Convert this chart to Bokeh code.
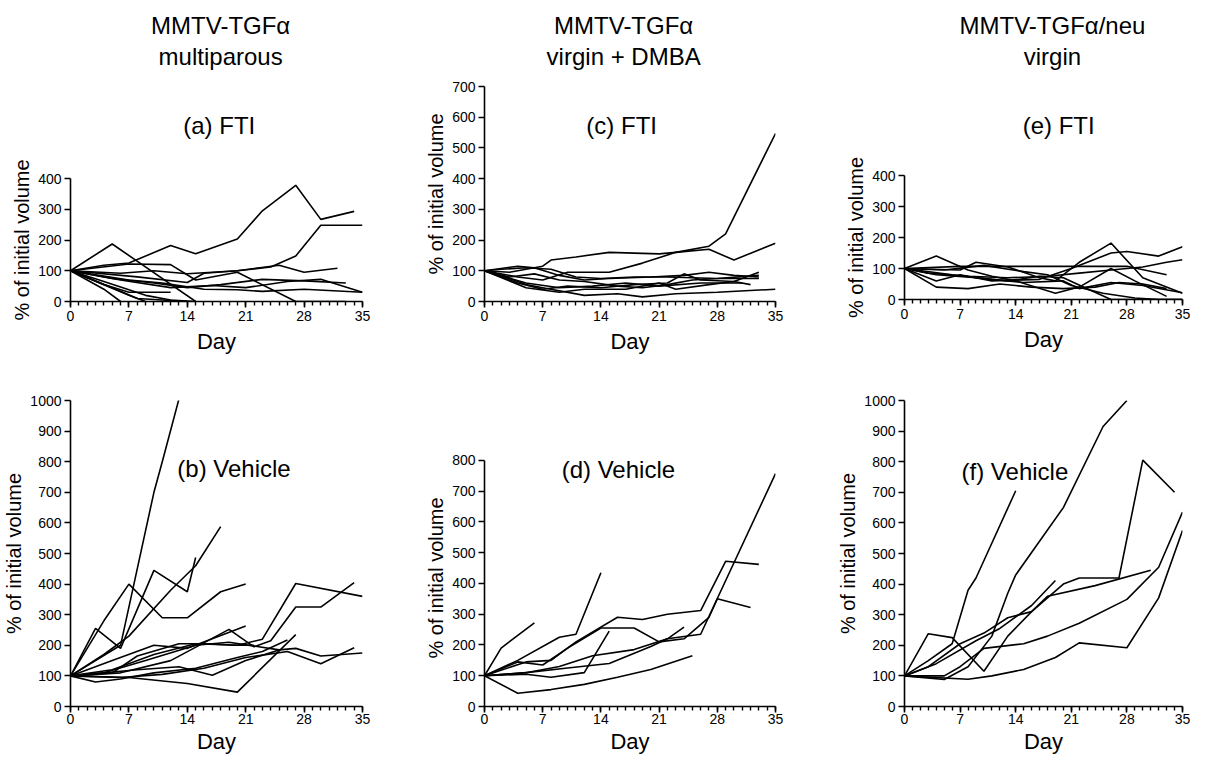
from bokeh.plotting import figure
from bokeh.layouts import row, column
from bokeh.models import Range1d, FixedTicker
from bokeh.core.properties import value
from bokeh.embed import file_html
from bokeh.resources import INLINE

FONT = "Liberation Sans"

# ---------------- data ----------------
day_ticks = [0, 7, 14, 21, 28, 35]
day_minor = list(range(0, 36))

col_title_1 = ["MMTV-TGF\u03b1", "MMTV-TGF\u03b1", "MMTV-TGF\u03b1/neu"]
col_title_2 = ["multiparous", "virgin + DMBA", "virgin"]
panel_labels = ["(a) FTI", "(b) Vehicle", "(c) FTI", "(d) Vehicle", "(e) FTI", "(f) Vehicle"]
x_label = "Day"
y_label = "% of initial volume"

# (a) multiparous, FTI
a_days = [
    [0, 4, 7, 12, 15, 20, 23, 27, 30, 34],
    [0, 5, 15],
    [0, 7, 12, 15, 20, 27, 33],
    [0, 6, 10, 14, 17, 20, 24, 27, 30, 35],
    [0, 8, 14, 16, 20, 25, 28, 32],
    [0, 5, 10, 14, 18, 23, 28, 33],
    [0, 6, 12, 17, 21, 26, 30, 35],
    [0, 7, 11, 16, 20, 23, 28, 35],
    [0, 4, 7, 12],
    [0, 4, 6],
    [0, 7, 9],
    [0, 5, 8, 14],
    [0, 4, 9, 12, 15],
]
a_vals = [
    [100, 118, 125, 182, 155, 203, 295, 378, 267, 293],
    [100, 187, 0],
    [100, 122, 120, 70, 95, 0, 0],
    [100, 92, 100, 90, 95, 100, 112, 148, 248, 248],
    [100, 80, 62, 92, 100, 118, 95, 108],
    [100, 75, 60, 45, 55, 72, 67, 60],
    [100, 70, 45, 52, 45, 65, 72, 30],
    [100, 70, 60, 40, 38, 33, 40, 30],
    [100, 55, 30, 30],
    [100, 40, 0],
    [100, 20, 0],
    [100, 45, 10, 0],
    [100, 65, 20, 5, 0],
]

# (b) multiparous, vehicle
b_days = [
    [0, 6, 8, 10, 11, 13],
    [0, 4, 7, 12, 15, 18],
    [0, 3, 6, 10, 14, 15],
    [0, 4, 7, 11, 14, 18, 21],
    [0, 5, 10, 15, 20, 23, 27, 35],
    [0, 6, 12, 19, 22, 24, 27, 30, 34],
    [0, 5, 10, 14, 21],
    [0, 7, 14, 20, 27],
    [0, 4, 9, 15, 19, 25, 27, 30, 35],
    [0, 6, 11, 16, 21, 26, 30, 34],
    [0, 8, 13, 17, 21, 25],
    [0, 3, 6, 10, 15, 20, 23, 26],
    [0, 5, 8, 13, 16, 20, 22],
]
b_vals = [
    [100, 200, 450, 700, 800, 1005],
    [100, 170, 230, 380, 460, 588],
    [100, 255, 190, 445, 375, 487],
    [100, 280, 400, 290, 290, 375, 400],
    [100, 120, 170, 205, 200, 220, 402, 360],
    [100, 110, 150, 252, 195, 215, 325, 325, 405],
    [100, 150, 200, 190, 263],
    [100, 95, 75, 47, 235],
    [100, 110, 150, 200, 210, 185, 190, 165, 175],
    [100, 95, 105, 125, 160, 180, 140, 192],
    [100, 120, 130, 102, 150, 185],
    [100, 80, 90, 110, 125, 160, 180, 217],
    [100, 110, 165, 205, 205, 200, 200],
]

# (c) virgin + DMBA, FTI
c_days = [
    [0, 4, 7, 10, 15, 19, 23, 27, 29, 35],
    [0, 3, 7, 8, 11, 15, 21, 23, 27, 30, 35],
    [0, 4, 6, 9, 12, 15, 20, 24, 27, 30, 33],
    [0, 3, 5, 7, 12, 16, 19, 23, 28, 35],
    [0, 4, 7, 10, 14, 18, 22, 24, 26, 30, 33],
    [0, 5, 9, 12, 17, 21, 23, 27, 30, 32],
    [0, 3, 6, 9, 12, 16, 19, 22, 25, 28, 33],
    [0, 2, 5, 8, 11, 14, 18, 22, 28, 33],
    [0, 5, 9, 13, 17, 21, 26, 31],
]
c_vals = [
    [100, 80, 70, 95, 95, 125, 160, 180, 220, 547],
    [100, 95, 115, 135, 145, 160, 155, 160, 170, 135, 190],
    [100, 115, 110, 85, 70, 75, 80, 85, 95, 85, 80],
    [100, 75, 55, 45, 20, 25, 15, 25, 30, 40],
    [100, 60, 40, 50, 45, 55, 60, 90, 70, 65, 95],
    [100, 45, 30, 40, 40, 60, 40, 55, 65, 55],
    [100, 80, 90, 70, 65, 50, 45, 55, 70, 75, 85],
    [100, 105, 110, 105, 80, 75, 80, 80, 75, 75],
    [100, 60, 45, 50, 60, 50, 60, 60],
]

# (d) virgin + DMBA, vehicle
d_days = [
    [0, 2, 6],
    [0, 4, 9, 11, 14],
    [0, 5, 8, 12, 15],
    [0, 5, 10, 15, 20, 22, 26, 35],
    [0, 5, 8, 11, 16, 19, 22, 26, 29, 33],
    [0, 4, 7, 10, 14, 18, 21, 24, 27, 28, 32],
    [0, 5, 9, 13, 18, 22, 24],
    [0, 4, 8, 12, 16, 20, 25],
]
d_vals = [
    [100, 190, 272],
    [100, 150, 225, 235, 435],
    [100, 105, 95, 110, 245],
    [100, 110, 125, 140, 195, 220, 235, 757],
    [100, 145, 150, 210, 290, 283, 300, 312, 472, 462],
    [100, 145, 135, 190, 255, 255, 210, 220, 290, 350, 322],
    [100, 110, 130, 165, 185, 220, 258],
    [100, 43, 55, 72, 95, 120, 165],
]

# (e) TGFa/neu virgin, FTI
e_days = [
    [0, 4, 8, 11, 14, 19, 22, 26, 29, 33],
    [0, 7, 9, 13, 17, 19, 22, 26, 30, 35],
    [0, 7, 28, 33],
    [0, 4, 8, 12, 16, 20, 24, 27, 30, 33],
    [0, 4, 7, 11, 17, 21, 26, 28, 32, 35],
    [0, 3, 8, 13, 18, 22, 26, 30, 33, 35],
    [0, 5, 10, 15, 18, 21, 25, 29, 32, 35],
    [0, 6, 11, 15, 20, 22, 26, 30, 35],
    [0, 4, 9, 13, 17, 20, 23, 26, 35],
]
e_vals = [
    [100, 140, 95, 75, 60, 20, 40, 100, 60, 10],
    [100, 95, 120, 105, 70, 60, 120, 182, 70, 20],
    [100, 107, 107, 80],
    [100, 40, 35, 50, 40, 35, 40, 55, 50, 35],
    [100, 60, 80, 60, 65, 100, 150, 155, 140, 170],
    [100, 85, 75, 70, 75, 85, 95, 105, 120, 128],
    [100, 95, 110, 90, 80, 45, 20, 5, 0, 0],
    [100, 80, 65, 55, 60, 35, 55, 45, 22],
    [100, 80, 70, 60, 75, 70, 35, 0, 0],
]

# (f) TGFa/neu virgin, vehicle
f_days = [
    [0, 3, 6, 8, 9, 14],
    [0, 5, 8, 11, 13, 14, 20, 25, 28],
    [0, 3, 7, 10, 13, 16, 18, 20, 22, 27, 30, 34],
    [0, 5, 7, 10, 15, 18, 22, 28, 32, 35],
    [0, 8, 11, 15, 19, 22, 28, 32, 35],
    [0, 4, 9, 12, 16, 19],
    [0, 3, 6, 10, 13, 16, 18, 24, 31],
]
f_vals = [
    [100, 150, 205, 380, 420, 705],
    [100, 88, 130, 230, 370, 430, 650, 915, 1000],
    [100, 130, 205, 240, 290, 310, 355, 400, 420, 420, 805, 700],
    [100, 100, 130, 190, 205, 230, 272, 350, 455, 635],
    [100, 89, 100, 121, 160, 208, 192, 355, 575],
    [100, 140, 215, 255, 330, 412],
    [100, 238, 225, 115, 230, 310, 360, 395, 445],
]

TITLE_SIZE = "24px"
LABEL_SIZE = "24px"


def add_text(p, x, y, t, size):
    p.text(x=[x], y=[y], text=[t], text_font=value(FONT), text_font_size=size,
           text_align="center", text_baseline="alphabetic", text_color="black")


def text_fig(width, height):
    p = figure(width=width, height=height,
               x_range=Range1d(0, width), y_range=Range1d(0, height),
               output_backend="svg", toolbar_location=None, title=None,
               x_axis_location=None, y_axis_location=None,
               min_border_left=0, min_border_right=0,
               min_border_top=0, min_border_bottom=0)
    p.grid.visible = False
    p.outline_line_color = None
    return p


def panel(xs, ys, ymax, y_end, width, height, left, right, top, bottom,
          tick_standoff, label_standoff):
    p = figure(width=width, height=height,
               x_range=Range1d(0, 35), y_range=Range1d(0, y_end),
               output_backend="svg", toolbar_location=None, title=None,
               min_border_left=left, min_border_right=right,
               min_border_top=top, min_border_bottom=bottom)
    p.multi_line(xs=xs, ys=ys, line_color="black", line_width=1.6)
    p.grid.visible = False
    p.outline_line_color = None
    for ax in (p.xaxis[0], p.yaxis[0]):
        ax.axis_line_color = "black"
        ax.axis_line_width = 1.6
        ax.major_tick_line_color = "black"
        ax.major_tick_line_width = 1.6
        ax.minor_tick_line_color = "black"
        ax.minor_tick_line_width = 1.4
        ax.major_tick_in = 0
        ax.major_tick_out = 6
        ax.minor_tick_in = 0
        ax.minor_tick_out = 4
        ax.major_label_text_font = FONT
        ax.major_label_text_font_size = "14px"
        ax.major_label_text_color = "black"
        ax.axis_label_text_font = FONT
        ax.axis_label_text_font_style = "normal"
        ax.axis_label_text_color = "black"
    xa = p.xaxis[0]
    xa.ticker = FixedTicker(ticks=day_ticks, minor_ticks=day_minor)
    xa.bounds = (0, 35)
    xa.axis_label = x_label
    xa.axis_label_text_font_size = "22px"
    xa.major_label_standoff = tick_standoff
    xa.axis_label_standoff = label_standoff
    ya = p.yaxis[0]
    ya.ticker = FixedTicker(ticks=list(range(0, ymax + 1, 100)))
    ya.bounds = (0, ymax)
    ya.axis_label = y_label
    ya.axis_label_text_font_size = "20px"
    ya.major_label_standoff = 3
    ya.axis_label_standoff = 2
    return p


# ---- column 1: multiparous ----
tA = text_fig(422, 142)
add_text(tA, 217, 117, col_title_1[0], TITLE_SIZE)
add_text(tA, 217, 86, col_title_2[0], TITLE_SIZE)
add_text(tA, 215, 17, panel_labels[0], LABEL_SIZE)

pa = panel(a_days, a_vals, 400, 400, 422, 215, 68, 60, 36, 56, 3, 5)
pb = panel(b_days, b_vals, 1000, 1000, 422, 399, 68, 60, 43, 50, 1, 2)
add_text(pb, 19.6, 777, panel_labels[1], LABEL_SIZE)

# ---- column 2: virgin + DMBA ----
tC = text_fig(412, 72)
add_text(tC, 197, 47, col_title_1[1], TITLE_SIZE)
add_text(tC, 197, 16, col_title_2[1], TITLE_SIZE)

pc = panel(c_days, c_vals, 700, 700, 412, 285, 62, 59, 14, 56, 3, 5)
add_text(pc, 16.5, 573, panel_labels[2], LABEL_SIZE)
pd = panel(d_days, d_vals, 800, 835.5, 412, 399, 62, 59, 92, 50, 1, 2)
add_text(pd, 16.1, 771, panel_labels[3], LABEL_SIZE)

# ---- column 3: TGFa/neu virgin ----
tE = text_fig(357, 142)
add_text(tE, 190, 117, col_title_1[2], TITLE_SIZE)
add_text(tE, 190, 86, col_title_2[2], TITLE_SIZE)
add_text(tE, 198, 17, panel_labels[4], LABEL_SIZE)

pe = panel(e_days, e_vals, 400, 400, 357, 215, 60, 9, 33, 58, 3, 5)
pf = panel(f_days, f_vals, 1000, 1000, 357, 399, 65, 9, 43, 50, 1, 2)
add_text(pf, 13.9, 769, panel_labels[5], LABEL_SIZE)

layout = row(column(tA, pa, pb, spacing=0),
             column(tC, pc, pd, spacing=0),
             column(tE, pe, pf, spacing=0), spacing=0)

open("out.html", "w").write(file_html(layout, INLINE))
